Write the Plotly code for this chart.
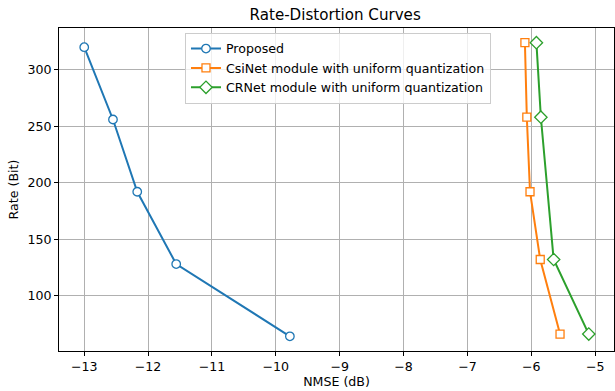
import plotly.graph_objects as go

proposed_nmse = [-13.0, -12.55, -12.17, -11.56, -9.78]
proposed_rate = [320, 256, 192, 128, 64]
csinet_nmse = [-6.10, -6.07, -6.02, -5.86, -5.55]
csinet_rate = [324, 258, 192, 132, 66]
crnet_nmse = [-5.92, -5.85, -5.65, -5.10]
crnet_rate = [324, 258, 132, 66]

x_ticks = [-13, -12, -11, -10, -9, -8, -7, -6, -5]
y_ticks = [100, 150, 200, 250, 300]

colors = ["#1f77b4", "#ff7f0e", "#2ca02c"]

fig = go.Figure()
series = [
    ("Proposed", proposed_nmse, proposed_rate, "circle", colors[0], 8.5),
    ("CsiNet module with uniform quantization", csinet_nmse, csinet_rate, "square", colors[1], 8),
    ("CRNet module with uniform quantization", crnet_nmse, crnet_rate, "diamond", colors[2], 9.5),
]
for name, x, y, sym, c, sz in series:
    fig.add_trace(go.Scatter(
        x=x, y=y, name=name, mode="lines+markers",
        line=dict(color=c, width=2),
        marker=dict(symbol=sym, size=sz, color="white",
                    line=dict(color=c, width=1.3)),
    ))

font = "DejaVu Sans, sans-serif"
fs = 12.6
fig.update_layout(
    width=615, height=391,
    margin=dict(l=59, r=1, t=28, b=40),
    paper_bgcolor="white", plot_bgcolor="white",
    font=dict(family=font, size=fs, color="black"),
    title=dict(text="Rate-Distortion Curves", x=0.545, xanchor="center", y=0.962, yanchor="middle",
               font=dict(family=font, size=15.1, color="black")),
    showlegend=True,
    legend=dict(x=0.227, y=0.985, xanchor="left", yanchor="top",
                bgcolor="rgba(255,255,255,0.8)", bordercolor="#cccccc", borderwidth=1,
                font=dict(family=font, size=fs), tracegroupgap=0, itemwidth=30),
)
fig.update_xaxes(
    range=[-13.395, -4.705], tickvals=x_ticks, ticktext=["\u2212" + str(abs(v)) for v in x_ticks],
    showgrid=True, gridcolor="#b0b0b0", gridwidth=0.8,
    showline=True, linecolor="black", linewidth=1, mirror=True,
    ticks="outside", ticklen=4, tickcolor="black", zeroline=False,
    tickfont=dict(family=font, size=fs),
    title=dict(text="NMSE (dB)", font=dict(family=font, size=fs), standoff=4),
)
fig.update_yaxes(
    range=[51, 337], tickvals=y_ticks,
    showgrid=True, gridcolor="#b0b0b0", gridwidth=0.8,
    showline=True, linecolor="black", linewidth=1, mirror=True,
    ticks="outside", ticklen=4, tickcolor="black", zeroline=False,
    tickfont=dict(family=font, size=fs),
    title=dict(text="Rate (Bit)", font=dict(family=font, size=fs), standoff=6),
)
fig.write_html("out.html", config={"displayModeBar": False},
               post_script="document.body.style.margin='0';")
